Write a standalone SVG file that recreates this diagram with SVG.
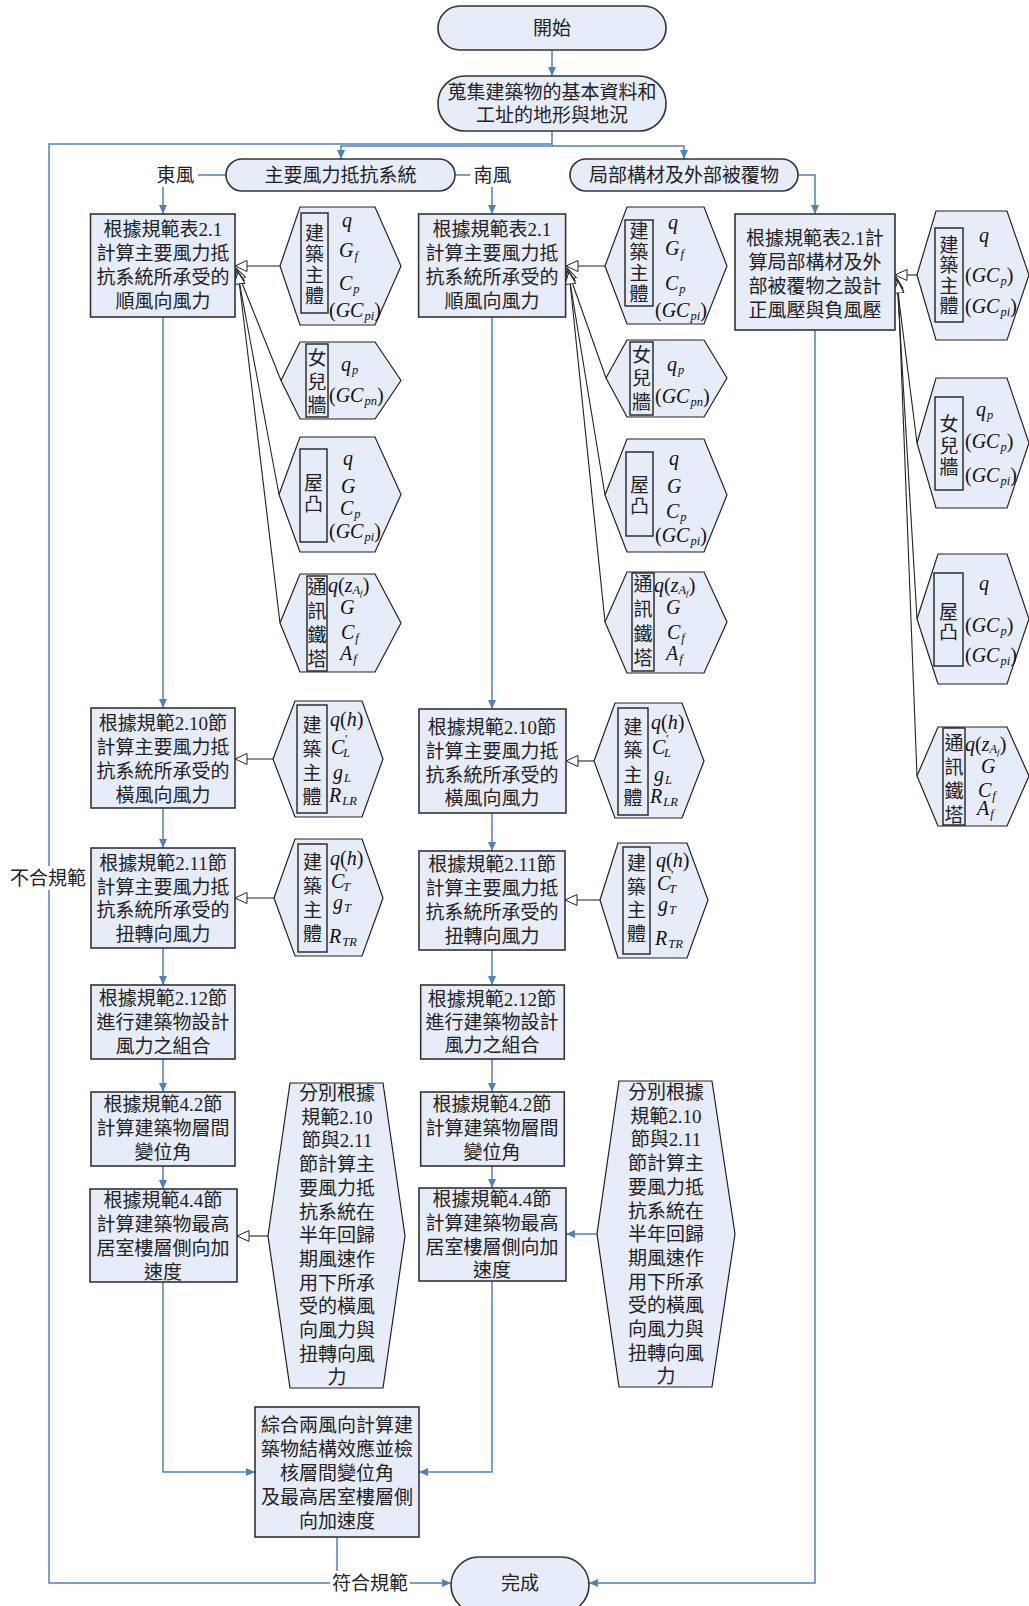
<svg xmlns="http://www.w3.org/2000/svg" width="1029" height="1606" viewBox="0 0 1029 1606">
<style>
.box{fill:#e6ecf8;stroke:#333;stroke-width:1.6}
.hex{fill:#e6ecf8;stroke:#222;stroke-width:1.2}
.in{fill:none;stroke:#222;stroke-width:1.4}
.t{font-family:"Liberation Serif","Noto Sans CJK TC",serif;font-size:19px;fill:#222;text-anchor:middle;dominant-baseline:central}
.v{font-family:"Liberation Serif",serif;font-style:italic;font-size:20px;fill:#111;dominant-baseline:central}
.s{font-size:12.5px}
.u{font-style:normal}
.bl{fill:none;stroke:#4f81bd;stroke-width:1.5}
.bk{fill:none;stroke:#222;stroke-width:1.1}
.wb{fill:#fff}
</style>
<defs>
<marker id="ab" markerUnits="userSpaceOnUse" markerWidth="10" markerHeight="10" refX="9" refY="4" orient="auto"><path d="M0,0 L9,4 L0,8 z" fill="#4f81bd"/></marker>
<marker id="ah" markerUnits="userSpaceOnUse" markerWidth="14" markerHeight="14" refX="12.5" refY="6" orient="auto"><path d="M0.5,0.5 L12.5,6 L0.5,11.5 z" fill="#fff" stroke="#222" stroke-width="1"/></marker>
</defs>

<g id="connectors">
<path class="bl" d="M552,50 V76" marker-end="url(#ab)"/>
<path class="bl" d="M552,131 V146 H341 V159" marker-end="url(#ab)"/>
<path class="bl" d="M552,146 H684 V159" marker-end="url(#ab)"/>
<path class="bl" d="M337,1537 V1583 H451" marker-end="url(#ab)"/>
<path class="bl" d="M337,1583 H49 V144 H552"/>
<path class="bl" d="M226,175 H163 V214" marker-end="url(#ab)"/>
<path class="bl" d="M455,175 H492 V214" marker-end="url(#ab)"/>
<path class="bl" d="M798,175 H815 V214" marker-end="url(#ab)"/>
<path class="bl" d="M163,317 V708" marker-end="url(#ab)"/>
<path class="bl" d="M163,808 V848" marker-end="url(#ab)"/>
<path class="bl" d="M163,948 V985" marker-end="url(#ab)"/>
<path class="bl" d="M163,1059 V1092" marker-end="url(#ab)"/>
<path class="bl" d="M163,1166 V1189" marker-end="url(#ab)"/>
<path class="bl" d="M163,1282 V1472 H255" marker-end="url(#ab)"/>
<path class="bl" d="M492,317 V709" marker-end="url(#ab)"/>
<path class="bl" d="M492,813 V851" marker-end="url(#ab)"/>
<path class="bl" d="M492,950 V985" marker-end="url(#ab)"/>
<path class="bl" d="M492,1059 V1092" marker-end="url(#ab)"/>
<path class="bl" d="M492,1166 V1188" marker-end="url(#ab)"/>
<path class="bl" d="M492,1281 V1472 H419" marker-end="url(#ab)"/>
<path class="bl" d="M815,330 V1583 H589" marker-end="url(#ab)"/>
<path class="bl" d="M597,1234 H566" marker-end="url(#ab)"/>

<path class="bk" d="M280,266 H235" marker-end="url(#ah)"/>
<path class="bk" d="M281,380.5 L236,268" marker-end="url(#ah)"/>
<path class="bk" d="M279,494.5 L237,270" marker-end="url(#ah)"/>
<path class="bk" d="M280,623 L238,272" marker-end="url(#ah)"/>
<path class="bk" d="M605,266 H566" marker-end="url(#ah)"/>
<path class="bk" d="M606,378 L567,268" marker-end="url(#ah)"/>
<path class="bk" d="M605,495 L568,270" marker-end="url(#ah)"/>
<path class="bk" d="M605,622 L569,272" marker-end="url(#ah)"/>
<path class="bk" d="M917,275 H895" marker-end="url(#ah)"/>
<path class="bk" d="M917,443 L896,277" marker-end="url(#ah)"/>
<path class="bk" d="M917,619 L897,279" marker-end="url(#ah)"/>
<path class="bk" d="M917,776 L898,281" marker-end="url(#ah)"/>
<path class="bk" d="M273,759 H235" marker-end="url(#ah)"/>
<path class="bk" d="M274,898 H235" marker-end="url(#ah)"/>
<path class="bk" d="M268,1236 H237" marker-end="url(#ah)"/>
<path class="bk" d="M594,761 H566" marker-end="url(#ah)"/>
<path class="bk" d="M600,900 H565" marker-end="url(#ah)"/>

<rect class="wb" x="153" y="164" width="45" height="23"/>
<text class="t" x="175.5" y="175">東風</text>
<rect class="wb" x="470" y="164" width="45" height="23"/>
<text class="t" x="492.5" y="175">南風</text>
<rect class="wb" x="8" y="866" width="80" height="24"/>
<text class="t" x="48" y="878">不合規範</text>
<rect class="wb" x="330" y="1571" width="80" height="24"/>
<text class="t" x="370" y="1583">符合規範</text>
</g>

<g id="start"><rect class="box" x="438" y="6" width="228" height="44" rx="22"/><text class="t" x="552" y="28">開始</text></g>
<g id="collect"><rect class="box" x="438" y="76" width="228" height="55" rx="27"/><text class="t" x="552" y="92">蒐集建築物的基本資料和</text><text class="t" x="552" y="115">工址的地形與地況</text></g>
<g id="mwfrs"><rect class="box" x="226" y="159" width="229" height="32" rx="16"/><text class="t" x="340.5" y="175">主要風力抵抗系統</text></g>
<g id="cladding"><rect class="box" x="570" y="159" width="228" height="32" rx="16"/><text class="t" x="684" y="175">局部構材及外部被覆物</text></g>

<g id="a1"><rect class="box" x="90.5" y="214" width="144.5" height="103"/><text class="t"><tspan x="163" y="229">根據規範表2.1</tspan><tspan x="163" y="253">計算主要風力抵</tspan><tspan x="163" y="277">抗系統所承受的</tspan><tspan x="163" y="301">順風向風力</tspan></text></g>
<g id="b1"><rect class="box" x="418.6" y="214" width="147" height="103"/><text class="t"><tspan x="492" y="229">根據規範表2.1</tspan><tspan x="492" y="253">計算主要風力抵</tspan><tspan x="492" y="277">抗系統所承受的</tspan><tspan x="492" y="301">順風向風力</tspan></text></g>
<g id="c1"><rect class="box" x="735" y="214" width="160" height="116"/><text class="t"><tspan x="815" y="238">根據規範表2.1計</tspan><tspan x="815" y="262">算局部構材及外</tspan><tspan x="815" y="286">部被覆物之設計</tspan><tspan x="815" y="310">正風壓與負風壓</tspan></text></g>

<g id="a2"><rect class="box" x="91" y="708" width="144" height="100"/><text class="t"><tspan x="163" y="723">根據規範2.10節</tspan><tspan x="163" y="747">計算主要風力抵</tspan><tspan x="163" y="771">抗系統所承受的</tspan><tspan x="163" y="795">橫風向風力</tspan></text></g>
<g id="a3"><rect class="box" x="91" y="848" width="144" height="100"/><text class="t"><tspan x="163" y="863">根據規範2.11節</tspan><tspan x="163" y="887">計算主要風力抵</tspan><tspan x="163" y="910">抗系統所承受的</tspan><tspan x="163" y="934">扭轉向風力</tspan></text></g>
<g id="b2"><rect class="box" x="419" y="709" width="147" height="104"/><text class="t"><tspan x="492" y="727">根據規範2.10節</tspan><tspan x="492" y="751">計算主要風力抵</tspan><tspan x="492" y="775">抗系統所承受的</tspan><tspan x="492" y="798">橫風向風力</tspan></text></g>
<g id="b3"><rect class="box" x="419" y="851" width="146" height="99"/><text class="t"><tspan x="492" y="864">根據規範2.11節</tspan><tspan x="492" y="888">計算主要風力抵</tspan><tspan x="492" y="912">抗系統所承受的</tspan><tspan x="492" y="936">扭轉向風力</tspan></text></g>

<g id="a4"><rect class="box" x="91" y="985" width="144" height="74"/><text class="t"><tspan x="163" y="998">根據規範2.12節</tspan><tspan x="163" y="1022">進行建築物設計</tspan><tspan x="163" y="1046">風力之組合</tspan></text></g>
<g id="b4"><rect class="box" x="420.7" y="985" width="143.6" height="74"/><text class="t"><tspan x="492" y="999">根據規範2.12節</tspan><tspan x="492" y="1022">進行建築物設計</tspan><tspan x="492" y="1045">風力之組合</tspan></text></g>
<g id="a5"><rect class="box" x="91" y="1092" width="144" height="74"/><text class="t"><tspan x="163" y="1104">根據規範4.2節</tspan><tspan x="163" y="1128">計算建築物層間</tspan><tspan x="163" y="1152">變位角</tspan></text></g>
<g id="b5"><rect class="box" x="420.7" y="1092" width="143.6" height="74"/><text class="t"><tspan x="492" y="1104">根據規範4.2節</tspan><tspan x="492" y="1128">計算建築物層間</tspan><tspan x="492" y="1152">變位角</tspan></text></g>
<g id="a6"><rect class="box" x="90" y="1189" width="147" height="93"/><text class="t"><tspan x="163" y="1200">根據規範4.4節</tspan><tspan x="163" y="1224">計算建築物最高</tspan><tspan x="163" y="1248">居室樓層側向加</tspan><tspan x="163" y="1272">速度</tspan></text></g>
<g id="b6"><rect class="box" x="419" y="1188" width="147" height="93"/><text class="t"><tspan x="492" y="1199">根據規範4.4節</tspan><tspan x="492" y="1223">計算建築物最高</tspan><tspan x="492" y="1247">居室樓層側向加</tspan><tspan x="492" y="1270">速度</tspan></text></g>

<g id="combine"><rect class="box" x="255" y="1407" width="164" height="130"/><text class="t"><tspan x="337" y="1425">綜合兩風向計算建</tspan><tspan x="337" y="1449">築物結構效應並檢</tspan><tspan x="337" y="1473">核層間變位角</tspan><tspan x="337" y="1497">及最高居室樓層側</tspan><tspan x="337" y="1521">向加速度</tspan></text></g>
<g id="finish"><rect class="box" x="451" y="1557" width="138" height="56" rx="28"/><text class="t" x="520" y="1583">完成</text></g>

<g id="ha1"><polygon class="hex" points="280,266 300,207 375,207 401,266 375,325 300,325"/><rect class="in" x="301" y="213" width="27" height="100"/>
<text class="t"><tspan x="314.5" y="233">建</tspan><tspan x="314.5" y="254">築</tspan><tspan x="314.5" y="275">主</tspan><tspan x="314.5" y="296">體</tspan></text>
<text class="v" x="342" y="220">q</text>
<text class="v" x="339" y="250">G<tspan class="s" dx="1" dy="6">f</tspan></text>
<text class="v" x="339" y="283">C<tspan class="s" dx="1" dy="6">p</tspan></text>
<text class="v" x="329" y="310"><tspan class="u">(</tspan>GC<tspan class="s" dx="1" dy="6">pi</tspan><tspan class="u" dy="-6">)</tspan></text></g>

<g id="ha2"><polygon class="hex" points="281,380.5 300,342 375,342 401,380.5 375,419 300,419"/><rect class="in" x="306" y="344" width="22" height="73"/>
<text class="t"><tspan x="317" y="358">女</tspan><tspan x="317" y="382">兒</tspan><tspan x="317" y="405">牆</tspan></text>
<text class="v" x="341" y="364">q<tspan class="s" dx="1" dy="6">p</tspan></text>
<text class="v" x="329" y="395"><tspan class="u">(</tspan>GC<tspan class="s" dx="1" dy="6">pn</tspan><tspan class="u" dy="-6">)</tspan></text></g>

<g id="ha3"><polygon class="hex" points="279,494.5 300,437 375,437 401,494.5 375,552 300,552"/><rect class="in" x="300" y="449" width="27" height="93"/>
<text class="t"><tspan x="313.5" y="483">屋</tspan><tspan x="313.5" y="504">凸</tspan></text>
<text class="v" x="343" y="458">q</text>
<text class="v" x="341" y="486">G</text>
<text class="v" x="340" y="508">C<tspan class="s" dx="1" dy="6">p</tspan></text>
<text class="v" x="329" y="531"><tspan class="u">(</tspan>GC<tspan class="s" dx="1" dy="6">pi</tspan><tspan class="u" dy="-6">)</tspan></text></g>

<g id="ha4"><polygon class="hex" points="280,623 300,574 375,574 401,623 375,672 300,672"/><rect class="in" x="307" y="576" width="20" height="95"/>
<text class="t"><tspan x="317" y="587">通</tspan><tspan x="317" y="611">訊</tspan><tspan x="317" y="635">鐵</tspan><tspan x="317" y="659">塔</tspan></text>
<text class="v" x="328" y="585">q<tspan class="u">(</tspan>z<tspan class="s" dy="5">A</tspan><tspan style="font-size:9px" dy="3">f</tspan><tspan class="u" dy="-8">)</tspan></text>
<text class="v" x="340" y="607">G</text>
<text class="v" x="341" y="632">C<tspan class="s" dx="1" dy="6">f</tspan></text>
<text class="v" x="340" y="653">A<tspan class="s" dx="1" dy="6">f</tspan></text></g>

<g id="ha5"><polygon class="hex" points="273,759 295,701 362,701 383,759 362,817 295,817"/><rect class="in" x="297" y="705" width="30" height="108"/>
<text class="t"><tspan x="312" y="725">建</tspan><tspan x="312" y="749">築</tspan><tspan x="312" y="773">主</tspan><tspan x="312" y="797">體</tspan></text>
<text class="v" x="330" y="719">q<tspan class="u">(</tspan>h<tspan class="u">)</tspan></text>
<text class="v" x="331" y="747">C<tspan class="s" dy="-8">'</tspan><tspan class="s" dx="-4" dy="14">L</tspan></text>
<text class="v" x="333" y="772">g<tspan class="s" dx="1" dy="6">L</tspan></text>
<text class="v" x="329" y="795">R<tspan class="s" dx="1" dy="6">LR</tspan></text></g>

<g id="ha6"><polygon class="hex" points="274,898 295,839 362,839 383,898 362,956 295,956"/><rect class="in" x="298" y="844" width="29" height="108"/>
<text class="t"><tspan x="312.5" y="862">建</tspan><tspan x="312.5" y="886">築</tspan><tspan x="312.5" y="910">主</tspan><tspan x="312.5" y="934">體</tspan></text>
<text class="v" x="330" y="858">q<tspan class="u">(</tspan>h<tspan class="u">)</tspan></text>
<text class="v" x="331" y="881">C<tspan class="s" dy="-8">'</tspan><tspan class="s" dx="-4" dy="14">T</tspan></text>
<text class="v" x="333" y="902">g<tspan class="s" dx="1" dy="6">T</tspan></text>
<text class="v" x="329" y="936">R<tspan class="s" dx="1" dy="6">TR</tspan></text></g>

<g id="ha7"><polygon class="hex" points="268,1236 290,1083 383,1083 405,1236 383,1388 290,1388"/>
<text class="t"><tspan x="337" y="1093">分別根據</tspan><tspan x="337" y="1116.7">規範2.10</tspan><tspan x="337" y="1140.4">節與2.11</tspan><tspan x="337" y="1164.1">節計算主</tspan><tspan x="337" y="1187.8">要風力抵</tspan><tspan x="337" y="1211.5">抗系統在</tspan><tspan x="337" y="1235.2">半年回歸</tspan><tspan x="337" y="1258.9">期風速作</tspan><tspan x="337" y="1282.6">用下所承</tspan><tspan x="337" y="1306.3">受的橫風</tspan><tspan x="337" y="1330">向風力與</tspan><tspan x="337" y="1353.7">扭轉向風</tspan><tspan x="337" y="1377.4">力</tspan></text></g>

<g id="hb1"><polygon class="hex" points="605,266 627,207 704,207 727,266 704,324 627,324"/><rect class="in" x="625" y="220" width="28" height="86"/>
<text class="t"><tspan x="639" y="231">建</tspan><tspan x="639" y="252">築</tspan><tspan x="639" y="273">主</tspan><tspan x="639" y="294">體</tspan></text>
<text class="v" x="668" y="222">q</text>
<text class="v" x="665" y="248">G<tspan class="s" dx="1" dy="6">f</tspan></text>
<text class="v" x="665" y="283">C<tspan class="s" dx="1" dy="6">p</tspan></text>
<text class="v" x="655" y="310"><tspan class="u">(</tspan>GC<tspan class="s" dx="1" dy="6">pi</tspan><tspan class="u" dy="-6">)</tspan></text></g>

<g id="hb2"><polygon class="hex" points="606,378 627,340 704,340 727,378 704,417 627,417"/><rect class="in" x="630" y="342" width="23" height="73"/>
<text class="t"><tspan x="641.5" y="355">女</tspan><tspan x="641.5" y="378">兒</tspan><tspan x="641.5" y="402">牆</tspan></text>
<text class="v" x="667" y="364">q<tspan class="s" dx="1" dy="6">p</tspan></text>
<text class="v" x="655" y="396"><tspan class="u">(</tspan>GC<tspan class="s" dx="1" dy="6">pn</tspan><tspan class="u" dy="-6">)</tspan></text></g>

<g id="hb3"><polygon class="hex" points="605,495 627,439 704,439 727,495 704,552 627,552"/><rect class="in" x="626" y="452" width="27" height="84"/>
<text class="t"><tspan x="639.5" y="485">屋</tspan><tspan x="639.5" y="506">凸</tspan></text>
<text class="v" x="669" y="458">q</text>
<text class="v" x="667" y="486">G</text>
<text class="v" x="666" y="511">C<tspan class="s" dx="1" dy="6">p</tspan></text>
<text class="v" x="655" y="535"><tspan class="u">(</tspan>GC<tspan class="s" dx="1" dy="6">pi</tspan><tspan class="u" dy="-6">)</tspan></text></g>

<g id="hb4"><polygon class="hex" points="605,622 627,572 704,572 727,622 704,673 627,673"/><rect class="in" x="632" y="573" width="22" height="98"/>
<text class="t"><tspan x="643" y="584">通</tspan><tspan x="643" y="609">訊</tspan><tspan x="643" y="634">鐵</tspan><tspan x="643" y="658">塔</tspan></text>
<text class="v" x="654" y="585">q<tspan class="u">(</tspan>z<tspan class="s" dy="5">A</tspan><tspan style="font-size:9px" dy="3">f</tspan><tspan class="u" dy="-8">)</tspan></text>
<text class="v" x="666" y="607">G</text>
<text class="v" x="667" y="632">C<tspan class="s" dx="1" dy="6">f</tspan></text>
<text class="v" x="666" y="653">A<tspan class="s" dx="1" dy="6">f</tspan></text></g>

<g id="hb5"><polygon class="hex" points="594,761 615,703 682,703 704,761 682,818 615,818"/><rect class="in" x="618" y="708" width="30" height="107"/>
<text class="t"><tspan x="633" y="727">建</tspan><tspan x="633" y="750">築</tspan><tspan x="633" y="775">主</tspan><tspan x="633" y="798">體</tspan></text>
<text class="v" x="651" y="722">q<tspan class="u">(</tspan>h<tspan class="u">)</tspan></text>
<text class="v" x="652" y="747">C<tspan class="s" dy="-8">'</tspan><tspan class="s" dx="-4" dy="14">L</tspan></text>
<text class="v" x="654" y="774">g<tspan class="s" dx="1" dy="6">L</tspan></text>
<text class="v" x="650" y="796">R<tspan class="s" dx="1" dy="6">LR</tspan></text></g>

<g id="hb6"><polygon class="hex" points="600,900 618,843 687,843 708,900 687,958 618,958"/><rect class="in" x="623" y="847" width="27" height="107"/>
<text class="t"><tspan x="636.5" y="863">建</tspan><tspan x="636.5" y="887">築</tspan><tspan x="636.5" y="910">主</tspan><tspan x="636.5" y="934">體</tspan></text>
<text class="v" x="656" y="860">q<tspan class="u">(</tspan>h<tspan class="u">)</tspan></text>
<text class="v" x="657" y="883">C<tspan class="s" dy="-8">'</tspan><tspan class="s" dx="-4" dy="14">T</tspan></text>
<text class="v" x="658" y="904">g<tspan class="s" dx="1" dy="6">T</tspan></text>
<text class="v" x="655" y="938">R<tspan class="s" dx="1" dy="6">TR</tspan></text></g>

<g id="hb7"><polygon class="hex" points="597,1234 619,1081 712,1081 735,1234 712,1387 619,1387"/>
<text class="t"><tspan x="666" y="1092">分別根據</tspan><tspan x="666" y="1115.7">規範2.10</tspan><tspan x="666" y="1139.4">節與2.11</tspan><tspan x="666" y="1163.1">節計算主</tspan><tspan x="666" y="1186.8">要風力抵</tspan><tspan x="666" y="1210.5">抗系統在</tspan><tspan x="666" y="1234.2">半年回歸</tspan><tspan x="666" y="1257.9">期風速作</tspan><tspan x="666" y="1281.6">用下所承</tspan><tspan x="666" y="1305.3">受的橫風</tspan><tspan x="666" y="1329">向風力與</tspan><tspan x="666" y="1352.7">扭轉向風</tspan><tspan x="666" y="1376.4">力</tspan></text></g>

<g id="hc1"><polygon class="hex" points="917,275 936,211 1007,211 1029,275 1007,340 936,340"/><rect class="in" x="935" y="228" width="28" height="94"/>
<text class="t"><tspan x="949" y="245">建</tspan><tspan x="949" y="265">築</tspan><tspan x="949" y="286">主</tspan><tspan x="949" y="306">體</tspan></text>
<text class="v" x="979" y="235">q</text>
<text class="v" x="965" y="275"><tspan class="u">(</tspan>GC<tspan class="s" dx="1" dy="6">p</tspan><tspan class="u" dy="-6">)</tspan></text>
<text class="v" x="965" y="306"><tspan class="u">(</tspan>GC<tspan class="s" dx="1" dy="6">pi</tspan><tspan class="u" dy="-6">)</tspan></text></g>

<g id="hc2"><polygon class="hex" points="917,443 936,378 1007,378 1029,443 1007,508 936,508"/><rect class="in" x="935" y="397" width="28" height="93"/>
<text class="t"><tspan x="949" y="424">女</tspan><tspan x="949" y="446">兒</tspan><tspan x="949" y="467">牆</tspan></text>
<text class="v" x="976" y="409">q<tspan class="s" dx="1" dy="6">p</tspan></text>
<text class="v" x="965" y="441"><tspan class="u">(</tspan>GC<tspan class="s" dx="1" dy="6">p</tspan><tspan class="u" dy="-6">)</tspan></text>
<text class="v" x="965" y="475"><tspan class="u">(</tspan>GC<tspan class="s" dx="1" dy="6">pi</tspan><tspan class="u" dy="-6">)</tspan></text></g>

<g id="hc3"><polygon class="hex" points="917,619 938,554 1007,554 1029,619 1007,684 938,684"/><rect class="in" x="934" y="573" width="29" height="93"/>
<text class="t"><tspan x="948.5" y="612">屋</tspan><tspan x="948.5" y="632">凸</tspan></text>
<text class="v" x="979" y="583">q</text>
<text class="v" x="965" y="625"><tspan class="u">(</tspan>GC<tspan class="s" dx="1" dy="6">p</tspan><tspan class="u" dy="-6">)</tspan></text>
<text class="v" x="965" y="655"><tspan class="u">(</tspan>GC<tspan class="s" dx="1" dy="6">pi</tspan><tspan class="u" dy="-6">)</tspan></text></g>

<g id="hc4"><polygon class="hex" points="917,776 938,727 1007,727 1029,776 1007,826 938,826"/><rect class="in" x="943" y="728" width="22" height="97"/>
<text class="t"><tspan x="954" y="743">通</tspan><tspan x="954" y="767">訊</tspan><tspan x="954" y="791">鐵</tspan><tspan x="954" y="815">塔</tspan></text>
<text class="v" x="965" y="744">q<tspan class="u">(</tspan>z<tspan class="s" dy="5">A</tspan><tspan style="font-size:9px" dy="3">f</tspan><tspan class="u" dy="-8">)</tspan></text>
<text class="v" x="981" y="766">G</text>
<text class="v" x="978" y="790">C<tspan class="s" dx="1" dy="6">f</tspan></text>
<text class="v" x="977" y="808">A<tspan class="s" dx="1" dy="6">f</tspan></text></g>
</svg>
